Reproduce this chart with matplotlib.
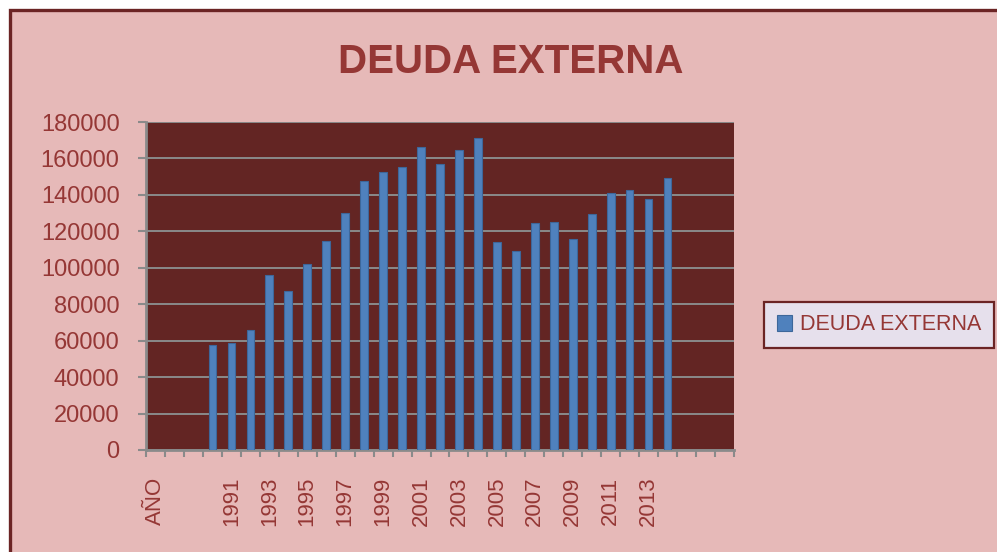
import matplotlib.pyplot as plt
from matplotlib.patches import Rectangle
import numpy as np

# datos
years = [str(y) for y in range(1990, 2015)]
deuda = [57400, 58500, 66000, 95800, 87300, 101800, 114500, 130300, 147700,
         152600, 155200, 166200, 156800, 164400, 171200, 114100, 109200,
         124600, 125100, 115700, 129500, 140900, 142600, 137800, 149200]
categories = ["AÑO", "", ""] + years + ["", "", ""]
y_ticks = list(range(0, 180001, 20000))

text_col = "#953735"
plot_bg = "#632523"
fig_bg = "#e6b9b8"
grid_col = "#8a8a8a"

plt.rcParams["font.family"] = ["Liberation Sans", "DejaVu Sans"]

fig = plt.figure(figsize=(9.97, 5.52), dpi=100, facecolor="white")
W, H = 997, 552

# marco exterior del grafico
fig.patches.append(Rectangle((10 / W, -0.05), 1.2, 1 - 9.5 / H + 0.05,
                             transform=fig.transFigure, facecolor=fig_bg,
                             edgecolor="#6b2424", linewidth=2.4, zorder=-5))

ax = fig.add_axes([146 / W, 102 / H, 588 / W, 328 / H])
ax.set_zorder(2)
ax.set_facecolor(plot_bg)

xpos = [categories.index(y) for y in years]
ax.bar(xpos, deuda, width=0.4, color="#4f81bd", edgecolor="#3d679a",
       linewidth=0.8, label="DEUDA EXTERNA", zorder=3)

ax.set_xlim(-0.5, len(categories) - 0.5)
ax.set_ylim(0, 180000)
ax.set_yticks(y_ticks)
ax.set_yticklabels([str(v) for v in y_ticks])
ax.yaxis.grid(True, color=grid_col, linewidth=1.4, zorder=1)
ax.set_axisbelow(True)

# marcas en los limites de categoria, etiquetas en el centro
n = len(categories)
ax.set_xticks(np.arange(n + 1) - 0.5)
ax.set_xticklabels([])
ax.set_xticks(np.arange(n), minor=True)
ax.set_xticklabels([c if i % 2 == 0 else "" for i, c in enumerate(categories)],
                   minor=True, rotation=90, va="top", ha="center")
ax.tick_params(axis="x", which="major", length=5, width=1.5, color=grid_col,
               direction="out")
ax.tick_params(axis="x", which="minor", length=0, pad=19, labelsize=16,
               labelcolor=text_col)
ax.tick_params(axis="y", length=6, width=1.5, color=grid_col, pad=13,
               labelsize=17, labelcolor=text_col)

for s in ["top", "right"]:
    ax.spines[s].set_visible(False)
for s in ["left", "bottom"]:
    ax.spines[s].set_color(grid_col)
    ax.spines[s].set_linewidth(2)

fig.text(511 / W, 1 - 62 / H, "DEUDA EXTERNA", ha="center", va="center",
         fontsize=29, fontweight="bold", color=text_col)

leg = ax.legend(loc="center left", bbox_to_anchor=(764 / W, 1 - 325 / H),
                bbox_transform=fig.transFigure, fontsize=15.5, frameon=True,
                fancybox=False, handlelength=0.7, handleheight=0.7,
                handletextpad=0.35, borderpad=0.6, borderaxespad=0)
leg.get_frame().set_facecolor("#e6e0ec")
leg.get_frame().set_edgecolor("#6b2424")
leg.get_frame().set_linewidth(1.6)
leg.get_frame().set_alpha(1)
for t in leg.get_texts():
    t.set_color(text_col)

fig.savefig("out.png", dpi=100, facecolor=fig.get_facecolor())
